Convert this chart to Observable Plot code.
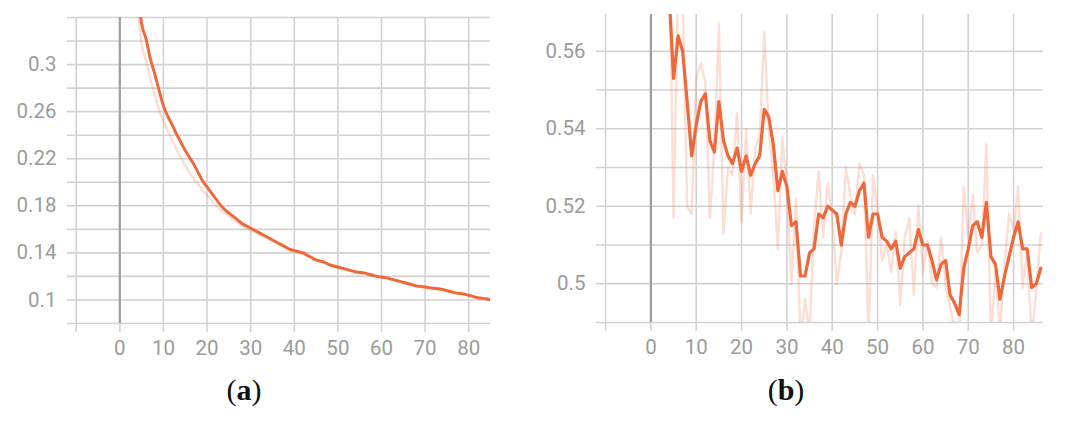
<!DOCTYPE html>
<html>
<head>
<meta charset="utf-8">
<script src="https://cdn.jsdelivr.net/npm/d3@7"></script>
<script src="https://cdn.jsdelivr.net/npm/@observablehq/plot@0.6"></script>
<style>
  html, body { margin: 0; padding: 0; background: #fff; }
  #wrap { position: relative; width: 1075px; height: 424px; overflow: hidden; background: #fff; }
  .panel { position: absolute; top: 0; }
  .cap { position: absolute; top: 373px; font-family: "Liberation Serif", "DejaVu Serif", serif; font-size: 30px; color: #111; transform: translateX(-50%); white-space: nowrap; }
  .cap b { font-weight: bold; }
</style>
</head>
<body>
<div id="wrap">
  <div id="left" class="panel" style="left:0px"></div>
  <div id="right" class="panel" style="left:530px"></div>
  <div class="cap" style="left:244px">(<b>a</b>)</div>
  <div class="cap" style="left:786px">(<b>b</b>)</div>
</div>
<script>
// ---- data (epochs start at 3) ----
const startEpoch = 3;
const lossSmooth = [
  0.42, 0.37, 0.335, 0.322, 0.305, 0.292, 0.278, 0.265, 0.256, 0.249,
  0.241, 0.234, 0.227, 0.221, 0.215, 0.208, 0.201, 0.196, 0.191, 0.186,
  0.181, 0.177, 0.174, 0.171, 0.168, 0.165, 0.163, 0.161, 0.159, 0.157,
  0.155, 0.153, 0.151, 0.149, 0.147, 0.145, 0.143, 0.142, 0.141, 0.140,
  0.138, 0.136, 0.134, 0.133, 0.132, 0.130, 0.129, 0.128, 0.127, 0.126,
  0.125, 0.124, 0.1235, 0.123, 0.122, 0.121, 0.120, 0.1195, 0.119, 0.118,
  0.117, 0.116, 0.115, 0.114, 0.113, 0.112, 0.1115, 0.111, 0.1105, 0.110,
  0.1095, 0.109, 0.108, 0.107, 0.106, 0.1055, 0.105, 0.104, 0.103, 0.102,
  0.1015, 0.101, 0.100
];
const lossRaw = [
  0.39, 0.35, 0.318, 0.303, 0.288, 0.274, 0.262, 0.252, 0.244, 0.236,
  0.228, 0.221, 0.214, 0.208, 0.203, 0.198, 0.193, 0.189, 0.185, 0.180,
  0.177, 0.174, 0.171, 0.168, 0.166, 0.163, 0.161, 0.159, 0.158, 0.155,
  0.154, 0.152, 0.150, 0.148, 0.146, 0.144, 0.142, 0.141, 0.140, 0.139,
  0.137, 0.135, 0.133, 0.133, 0.131, 0.130, 0.128, 0.127, 0.126, 0.1255,
  0.1245, 0.1235, 0.123, 0.1225, 0.121, 0.1205, 0.1195, 0.119, 0.1185, 0.1175,
  0.1165, 0.1155, 0.1145, 0.1135, 0.1125, 0.1115, 0.111, 0.1105, 0.110, 0.1095,
  0.109, 0.1085, 0.1075, 0.1065, 0.1055, 0.105, 0.1045, 0.1035, 0.1025, 0.1015,
  0.101, 0.1005, 0.0995
];
const valSmooth = [
  0.60, 0.575, 0.553, 0.564, 0.560, 0.547, 0.533, 0.541, 0.547, 0.549,
  0.537, 0.534, 0.547, 0.537, 0.533, 0.531, 0.535, 0.529, 0.533, 0.528,
  0.531, 0.533, 0.545, 0.543, 0.536, 0.524, 0.529, 0.525, 0.515, 0.516,
  0.502, 0.502, 0.508, 0.509, 0.518, 0.517, 0.520, 0.519, 0.518, 0.510,
  0.518, 0.521, 0.520, 0.524, 0.526, 0.512, 0.518, 0.518, 0.512, 0.511,
  0.509, 0.511, 0.504, 0.507, 0.508, 0.509, 0.514, 0.510, 0.510, 0.506,
  0.501, 0.505, 0.506, 0.497, 0.495, 0.492, 0.504, 0.509, 0.515, 0.516,
  0.512, 0.521, 0.507, 0.505, 0.496, 0.502, 0.507, 0.512, 0.516, 0.509,
  0.509, 0.499, 0.500, 0.504
];
const valRaw = [
  0.60, 0.59, 0.517, 0.58, 0.575, 0.52, 0.518, 0.553, 0.557, 0.552,
  0.517, 0.535, 0.567, 0.513, 0.530, 0.528, 0.544, 0.516, 0.540, 0.518,
  0.535, 0.538, 0.565, 0.540, 0.528, 0.509, 0.538, 0.525, 0.500, 0.522,
  0.485, 0.496, 0.487, 0.515, 0.529, 0.512, 0.526, 0.517, 0.500, 0.508,
  0.530, 0.523, 0.518, 0.531, 0.528, 0.486, 0.528, 0.519, 0.506, 0.510,
  0.503, 0.5135, 0.4946, 0.512, 0.517, 0.497, 0.520, 0.503, 0.511, 0.500,
  0.499, 0.512, 0.4997, 0.494, 0.488, 0.485, 0.525, 0.512, 0.523, 0.508,
  0.510, 0.536, 0.486, 0.503, 0.488, 0.505, 0.518, 0.514, 0.525, 0.499,
  0.508, 0.486, 0.498, 0.513
];
const xTicks = [-10, 0, 10, 20, 30, 40, 50, 60, 70, 80];
const leftGridY = [0.08, 0.10, 0.12, 0.14, 0.16, 0.18, 0.20, 0.22, 0.24, 0.26, 0.28, 0.30, 0.32, 0.34];
const leftLabelY = [0.10, 0.14, 0.18, 0.22, 0.26, 0.30];
const rightGridY = [0.49, 0.50, 0.51, 0.52, 0.53, 0.54, 0.55, 0.56];
const rightLabelY = [0.50, 0.52, 0.54, 0.56];

const LINE = "#f0673a";
const GRID = "#d2d2d2";
const LABEL = "#9b9b9b";

function toRows(vals) { return vals.map((v, i) => ({epoch: startEpoch + i, value: v})); }

function panel({width, marginLeft, marginRight, marginTop, marginBottom, xDomain, yDomain, gridY, labelY, yFormat, raw, smooth, curve, lw}) {
  return Plot.plot({
    width, height: 370, marginLeft, marginRight, marginTop, marginBottom,
    style: {fontFamily: "Roboto, 'Open Sans', sans-serif", fontSize: "20.5px", color: LABEL, background: "transparent", overflow: "visible"},
    x: {domain: xDomain, axis: null, label: null},
    y: {domain: yDomain, axis: null, label: null},
    marks: [
      Plot.ruleY(gridY, {stroke: GRID, strokeWidth: 1.6}),
      Plot.ruleX(xTicks.filter(d => d !== 0), {stroke: GRID, strokeWidth: 1.6}),
      Plot.axisX(xTicks, {tickSize: 9, tickPadding: 8, stroke: GRID, strokeWidth: 1.6, fill: LABEL, label: null,
        tickFormat: d => d < 0 ? "" : String(d)}),
      Plot.axisY(labelY, {tickSize: 0, tickPadding: 11, fill: LABEL, label: null, tickFormat: yFormat}),
      Plot.ruleX([0], {stroke: "#9e9e9e", strokeWidth: 2.2}),
      Plot.line(toRows(raw), {x: "epoch", y: "value", stroke: LINE, strokeOpacity: 0.22, strokeWidth: 2.4, clip: true, curve}),
      Plot.line(toRows(smooth), {x: "epoch", y: "value", stroke: LINE, strokeWidth: lw, clip: true, curve})
    ]
  });
}

const fmt = d => String(+d.toFixed(2));

document.getElementById("left").appendChild(panel({
  width: 500, marginLeft: 67, marginRight: 10, marginTop: 17, marginBottom: 47,
  xDomain: [-12, 85], yDomain: [0.08, 0.34],
  gridY: leftGridY, labelY: leftLabelY, yFormat: fmt,
  raw: lossRaw, smooth: lossSmooth, curve: "monotone-x", lw: 2.9
}));
document.getElementById("right").appendChild(panel({
  width: 545, marginLeft: 66, marginRight: 32, marginTop: 14, marginBottom: 48,
  xDomain: [-12, 86.6], yDomain: [0.49, 0.5695],
  gridY: rightGridY, labelY: rightLabelY, yFormat: fmt,
  raw: valRaw, smooth: valSmooth, curve: "linear", lw: 3.2
}));
</script>
</body>
</html>
